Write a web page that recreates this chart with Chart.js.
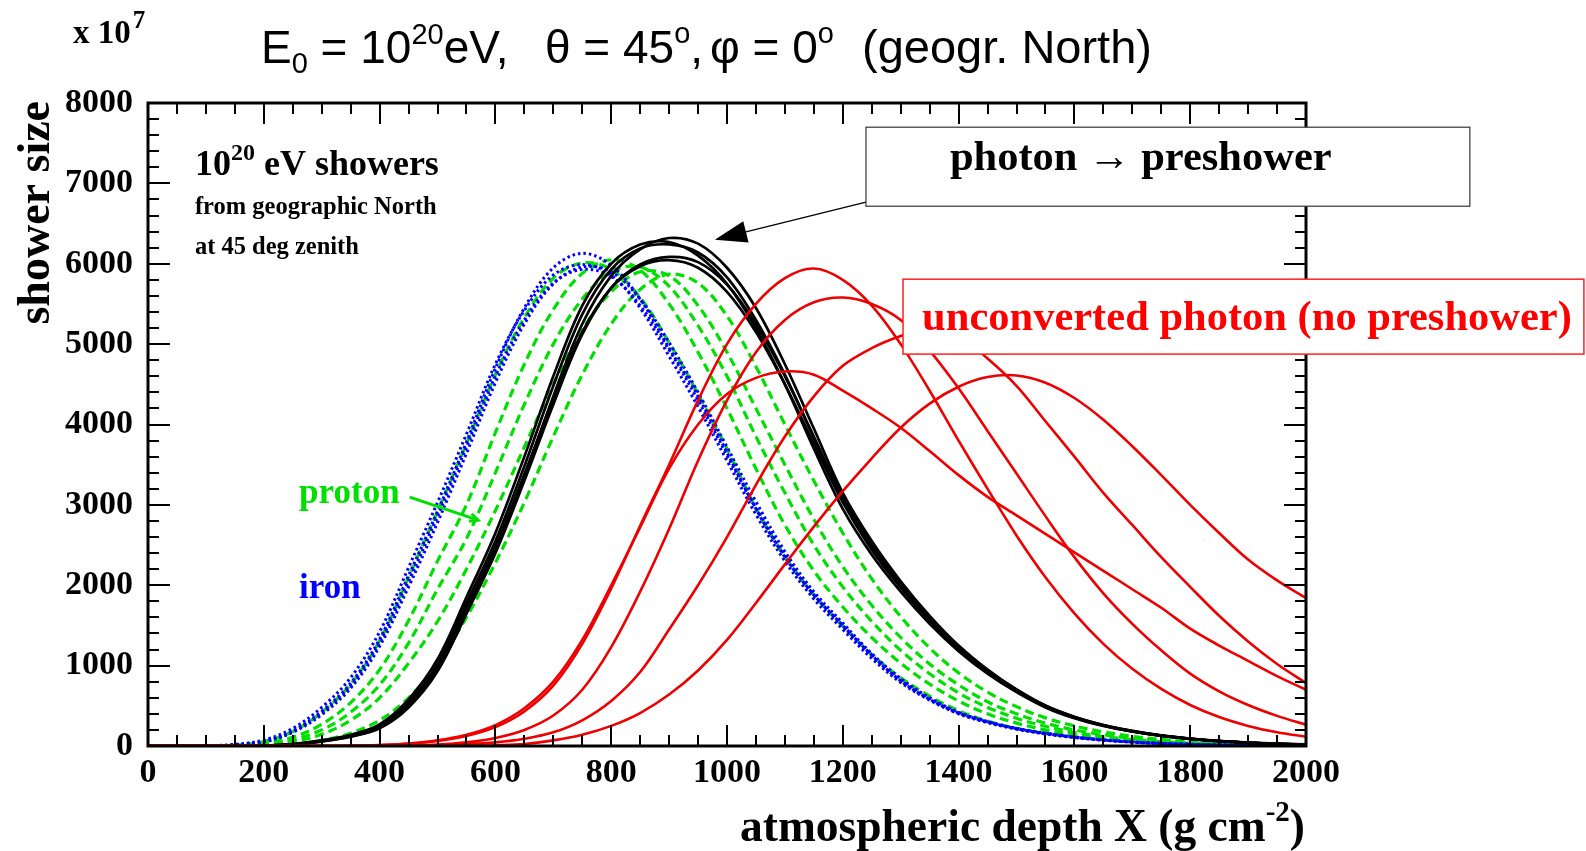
<!DOCTYPE html>
<html>
<head>
<meta charset="utf-8">
<title>Shower profiles</title>
<script src="https://cdn.jsdelivr.net/npm/chart.js@4.4.1/dist/chart.umd.min.js"></script>
<style>
html,body{margin:0;padding:0;background:#ffffff;overflow:hidden;}
#c{display:block;}
</style>
</head>
<body>
<canvas id="c" width="1586" height="851"></canvas>
<script>
// ---------------- data ----------------
const DEPTH = [0,50,100,150,200,250,300,350,400,450,500,550,600,650,700,750,800,850,900,950,1000,1050,1100,1150,1200,1250,1300,1350,1400,1450,1500,1550,1600,1650,1700,1750,1800,1850,1900,1950,2000];
const X_TICKS = [0,200,400,600,800,1000,1200,1400,1600,1800,2000];
const Y_TICKS = [0,1000,2000,3000,4000,5000,6000,7000,8000];

// iron (blue dotted)
const IRON_1 = [0,0,2,15,60,190,430,780,1330,2120,2920,3780,4700,5450,5950,6130,5980,5560,4950,4350,3650,2950,2350,1880,1500,1130,810,580,410,300,215,155,110,75,50,32,20,12,8,5,3];
const IRON_2 = [0,0,3,20,75,220,480,850,1420,2220,3030,3880,4750,5420,5860,5990,5860,5450,4850,4220,3550,2880,2300,1830,1450,1090,790,570,400,290,210,150,105,72,48,32,20,13,8,5,3];
const IRON_3 = [0,0,1,10,50,170,390,720,1240,1980,2780,3640,4520,5250,5750,5960,5900,5560,5020,4400,3720,3040,2420,1920,1530,1150,840,600,420,305,220,160,112,76,50,33,21,13,8,5,3];
const IRON_4 = [0,0,2,12,55,180,410,750,1290,2050,2860,3720,4600,5300,5760,5930,5840,5480,4930,4300,3620,2960,2370,1880,1490,1120,820,590,415,300,215,155,108,74,49,32,20,13,8,5,3];

// proton (green dashed)
const PROTON_1 = [0,0,2,10,55,180,420,770,1310,2100,2920,3760,4620,5330,5820,6010,5930,5580,5020,4380,3700,2960,2360,1880,1490,1140,850,620,440,310,220,160,115,80,55,37,24,15,10,6,4];
const PROTON_2 = [0,0,1,5,30,110,270,540,950,1560,2300,3000,3900,4750,5430,5880,6050,5920,5500,4900,4200,3450,2750,2180,1730,1350,1030,770,560,400,285,200,140,97,66,44,29,19,12,8,5];
const PROTON_3 = [0,0,0,3,20,80,200,420,760,1280,1950,2580,3400,4250,5000,5560,5900,5960,5720,5230,4600,3850,3150,2500,1980,1550,1190,900,660,480,345,245,170,118,80,54,36,24,15,10,6];
const PROTON_4 = [0,0,0,2,12,55,145,320,600,1030,1550,2200,2930,3720,4500,5180,5650,5900,5850,5480,4900,4200,3500,2820,2230,1750,1350,1020,760,550,400,285,200,140,95,65,44,29,19,12,8];
const PROTON_5 = [0,0,0,1,6,25,70,160,320,600,1020,1600,2280,3030,3850,4620,5250,5680,5870,5760,5350,4720,4000,3300,2650,2080,1610,1220,910,670,490,350,250,175,120,82,55,37,24,15,10];

// photon with preshower (black solid)
const PRESHOWER_1 = [0,0,0,0,5,20,60,120,230,500,950,1650,2450,3350,4350,5250,5850,6180,6320,6250,5950,5450,4750,3950,3150,2550,2050,1620,1250,950,700,500,360,260,185,130,90,62,42,28,18];
const PRESHOWER_2 = [0,0,0,0,6,25,70,140,270,580,1080,1850,2650,3600,4600,5480,6000,6240,6270,6100,5750,5200,4500,3700,2950,2380,1920,1520,1180,900,670,480,345,250,180,125,88,60,40,27,17];
const PRESHOWER_3 = [0,0,0,0,5,22,65,130,250,540,1020,1780,2550,3480,4480,5370,5930,6190,6240,6140,5830,5300,4620,3830,3060,2460,1980,1570,1210,920,690,495,355,255,182,128,89,61,41,27,17];
const PRESHOWER_4 = [0,0,0,0,4,18,55,115,220,480,930,1650,2400,3300,4250,5120,5700,5990,6085,6020,5740,5250,4600,3850,3100,2500,2020,1600,1240,945,705,505,365,262,188,132,92,63,43,29,19];
const PRESHOWER_5 = [0,0,0,0,5,20,60,125,240,520,990,1720,2480,3380,4320,5150,5700,5970,6045,5950,5650,5150,4500,3760,3030,2440,1970,1560,1210,925,690,495,355,255,182,128,89,61,41,27,17];

// unconverted photon (red solid)
const UNCONV_1 = [0,0,0,0,0,0,0,2,12,30,70,140,260,470,800,1320,2000,2720,3450,4000,4380,4580,4660,4620,4420,4200,3960,3670,3370,3100,2870,2640,2410,2180,1950,1720,1460,1250,1060,870,700];
const UNCONV_2 = [0,0,0,0,0,0,0,2,10,26,62,125,235,430,750,1270,1960,2740,3500,4300,5000,5500,5820,5940,5800,5480,5000,4420,3800,3200,2620,2100,1650,1270,960,710,510,360,250,170,115];
const UNCONV_3 = [0,0,0,0,0,0,0,0,2,6,17,45,100,200,380,700,1230,1920,2700,3550,4300,4900,5300,5520,5580,5500,5300,4920,4450,3920,3390,2860,2350,1900,1520,1190,900,680,510,375,265];
const UNCONV_4 = [0,0,0,0,0,0,0,0,0,3,10,22,45,90,170,320,560,920,1450,2000,2600,3250,3850,4350,4730,4950,5100,5200,5100,4820,4480,4040,3600,3150,2750,2350,1980,1620,1300,1020,784];
const UNCONV_5 = [0,0,0,0,0,0,0,0,0,0,0,3,10,25,70,140,250,410,640,940,1320,1780,2260,2730,3170,3580,3960,4260,4470,4590,4610,4520,4330,4060,3730,3370,3000,2650,2320,2060,1840];

// ---------------- styling ----------------
const SERIF = '"Liberation Serif","Times New Roman",serif';
const SANS = '"Liberation Sans",Arial,sans-serif';
const C_IRON = '#0000ff';
const C_PROTON = '#00e000';
const C_PRE = '#000000';
const C_UNCONV = '#ee0000';

function series(values, color, dash, width) {
  return {
    data: values.map((v, i) => ({x: DEPTH[i], y: v})),
    borderColor: color,
    borderDash: dash,
    borderWidth: width,
    borderCapStyle: 'butt',
    pointRadius: 0,
    fill: false,
    tension: 0.35
  };
}

const datasets = [];
[UNCONV_1, UNCONV_2, UNCONV_3, UNCONV_4, UNCONV_5].forEach(s => datasets.push(series(s, C_UNCONV, [], 2.6)));
[PRESHOWER_1, PRESHOWER_2, PRESHOWER_3, PRESHOWER_4, PRESHOWER_5].forEach(s => datasets.push(series(s, C_PRE, [], 2.7)));
[IRON_1, IRON_2, IRON_3, IRON_4].forEach(s => datasets.push(series(s, C_IRON, [2.5, 3], 3)));
[PROTON_1, PROTON_2, PROTON_3, PROTON_4, PROTON_5].forEach(s => datasets.push(series(s, C_PROTON, [9, 5], 3.2)));

function runs(ctx, x, y, parts) {
  // parts: [text, font, dy, color]
  let cx = x;
  for (const p of parts) {
    ctx.font = p[1];
    ctx.fillStyle = p[3] || '#000';
    ctx.fillText(p[0], cx, y + (p[2] || 0));
    cx += ctx.measureText(p[0]).width;
  }
  return cx;
}
function runsWidth(ctx, parts) {
  let w = 0;
  for (const p of parts) { ctx.font = p[1]; w += ctx.measureText(p[0]).width; }
  return w;
}

const decor = {
  id: 'decor',
  afterDraw(chart) {
    const {ctx, chartArea: a, scales: {x, y}} = chart;
    const X = v => x.getPixelForValue(v);
    const Y = v => y.getPixelForValue(v);
    ctx.save();
    ctx.textAlign = 'left';
    ctx.textBaseline = 'alphabetic';

    // ticks on all four sides (pointing inward)
    ctx.strokeStyle = '#000';
    ctx.lineWidth = 2;
    ctx.beginPath();
    for (let v = 0; v <= 2000; v += 50) {
      const px = Math.round(X(v));
      const L = v % 200 === 0 ? 21 : 11;
      ctx.moveTo(px, a.bottom); ctx.lineTo(px, a.bottom - L);
      ctx.moveTo(px, a.top); ctx.lineTo(px, a.top + L);
    }
    for (let v = 0; v <= 8000; v += 200) {
      const py = Math.round(Y(v));
      const L = v % 1000 === 0 ? 22 : 11;
      ctx.moveTo(a.left, py); ctx.lineTo(a.left + L, py);
      ctx.moveTo(a.right, py); ctx.lineTo(a.right - L, py);
    }
    ctx.stroke();
    ctx.lineWidth = 3;
    ctx.strokeRect(a.left, a.top, a.right - a.left, a.bottom - a.top);

    // main title (groups anchored where they sit in the original)
    ctx.fillStyle = '#000';
    const T = '46px ' + SANS, TS = '29px ' + SANS;
    runs(ctx, 261, 63, [['E', T], ['0', TS, 10], [' = 10', T], ['20', TS, -19], ['eV,', T]]);
    runs(ctx, 545, 63, [['\u03b8 = 45', T], ['o', TS, -20], [',', T]]);
    runs(ctx, 710, 63, [['\u03c6 = 0', T], ['o', TS, -20]]);
    runs(ctx, 862, 63, [['(geogr. North)', '47px ' + SANS]]);

    // exponent of the y axis
    runs(ctx, 73, 43, [['x 10', 'bold 33px ' + SERIF], [' ', 'bold 8px ' + SERIF], ['7', 'bold 25px ' + SERIF, -15]]);

    // y axis title
    ctx.save();
    ctx.translate(49, 101);
    ctx.rotate(-Math.PI / 2);
    ctx.textAlign = 'right';
    ctx.font = 'bold 46px ' + SERIF;
    ctx.fillStyle = '#000';
    ctx.fillText('shower size', 0, 0);
    ctx.restore();

    // x axis title (right aligned to the frame)
    const xt = [['atmospheric depth X (g cm', 'bold 45.5px ' + SERIF], ['-2', 'bold 29px ' + SERIF, -20], [')', 'bold 45.5px ' + SERIF]];
    runs(ctx, a.right - 1 - runsWidth(ctx, xt), 841, xt);

    // description
    runs(ctx, X(81), Y(7102), [['10', 'bold 36px ' + SERIF], ['20', 'bold 24px ' + SERIF, -15], [' eV showers', 'bold 36px ' + SERIF]]);
    ctx.font = 'bold 24.5px ' + SERIF;
    ctx.fillStyle = '#000';
    ctx.fillText('from geographic North', X(81), Y(6617));
    ctx.fillText('at 45 deg zenith', X(81), Y(6119));

    // proton label + arrow
    ctx.font = 'bold 35px ' + SERIF;
    ctx.fillStyle = C_PROTON;
    ctx.fillText('proton', X(261), Y(3022));
    ctx.strokeStyle = C_PROTON;
    ctx.lineWidth = 3;
    const p0 = [X(452), Y(3097)], p1 = [X(570), Y(2811)];
    ctx.beginPath(); ctx.moveTo(p0[0], p0[1]); ctx.lineTo(p1[0], p1[1]); ctx.stroke();
    const ang = Math.atan2(p1[1] - p0[1], p1[0] - p0[0]);
    ctx.beginPath();
    ctx.moveTo(p1[0] - 9 * Math.cos(ang - 0.45), p1[1] - 9 * Math.sin(ang - 0.45));
    ctx.lineTo(p1[0], p1[1]);
    ctx.lineTo(p1[0] - 9 * Math.cos(ang + 0.45), p1[1] - 9 * Math.sin(ang + 0.45));
    ctx.stroke();

    // iron label
    ctx.fillStyle = C_IRON;
    ctx.fillText('iron', X(261), Y(1841));

    // black box with arrow
    const tip = [X(979), Y(6300)], st = [X(1240), Y(6766)];
    const bang = Math.atan2(tip[1] - st[1], tip[0] - st[0]);
    const base = [tip[0] - 32 * Math.cos(bang), tip[1] - 32 * Math.sin(bang)];
    ctx.strokeStyle = '#000';
    ctx.lineWidth = 1.3;
    ctx.beginPath(); ctx.moveTo(st[0], st[1]); ctx.lineTo(base[0], base[1]); ctx.stroke();
    ctx.fillStyle = '#000';
    ctx.beginPath();
    ctx.moveTo(tip[0], tip[1]);
    ctx.lineTo(base[0] + 11 * Math.sin(bang), base[1] - 11 * Math.cos(bang));
    ctx.lineTo(base[0] - 11 * Math.sin(bang), base[1] + 11 * Math.cos(bang));
    ctx.closePath(); ctx.fill();

    const b1 = [X(1240), Y(7699), X(2283), Y(6716)];
    ctx.fillStyle = '#fff';
    ctx.fillRect(b1[0], b1[1], b1[2] - b1[0], b1[3] - b1[1]);
    ctx.strokeStyle = '#333';
    ctx.lineWidth = 1.2;
    ctx.strokeRect(b1[0], b1[1], b1[2] - b1[0], b1[3] - b1[1]);
    ctx.fillStyle = '#000';
    ctx.font = 'bold 42.5px ' + SERIF;
    ctx.fillText('photon \u2192 preshower', X(1385), Y(7164));

    // red box
    const b2 = [X(1304), Y(5808), X(2480), Y(4876)];
    ctx.fillStyle = '#fff';
    ctx.fillRect(b2[0], b2[1], b2[2] - b2[0], b2[3] - b2[1]);
    ctx.strokeStyle = '#ff2020';
    ctx.lineWidth = 1.5;
    ctx.strokeRect(b2[0], b2[1], b2[2] - b2[0], b2[3] - b2[1]);
    ctx.fillStyle = '#ff0000';
    ctx.font = 'bold 42.5px ' + SERIF;
    ctx.fillText('unconverted photon (no preshower)', X(1337), Y(5174));

    ctx.restore();
  }
};

const tickFont = {family: SERIF, weight: 'bold', size: 34};

new Chart(document.getElementById('c'), {
  type: 'line',
  data: {datasets},
  options: {
    responsive: false,
    animation: false,
    devicePixelRatio: 1,
    parsing: false,
    layout: {padding: {left: 0, top: 103, right: 280, bottom: 0}},
    plugins: {legend: {display: false}, tooltip: {enabled: false}, title: {display: false}},
    scales: {
      x: {
        type: 'linear', min: 0, max: 2000, position: 'bottom',
        afterFit: s => { s.height = 105; },
        afterBuildTicks: s => { s.ticks = X_TICKS.map(v => ({value: v})); },
        grid: {display: false, drawTicks: false},
        border: {display: false},
        ticks: {color: '#000', font: tickFont, padding: 7, maxRotation: 0, autoSkip: false, callback: v => String(v)}
      },
      y: {
        type: 'linear', min: 0, max: 8000, position: 'left',
        afterFit: s => { s.width = 148; },
        afterBuildTicks: s => { s.ticks = Y_TICKS.map(v => ({value: v})); },
        grid: {display: false, drawTicks: false},
        border: {display: false},
        ticks: {color: '#000', font: tickFont, padding: 15, autoSkip: false, callback: v => String(v)}
      }
    }
  },
  plugins: [decor]
});
</script>
</body>
</html>
